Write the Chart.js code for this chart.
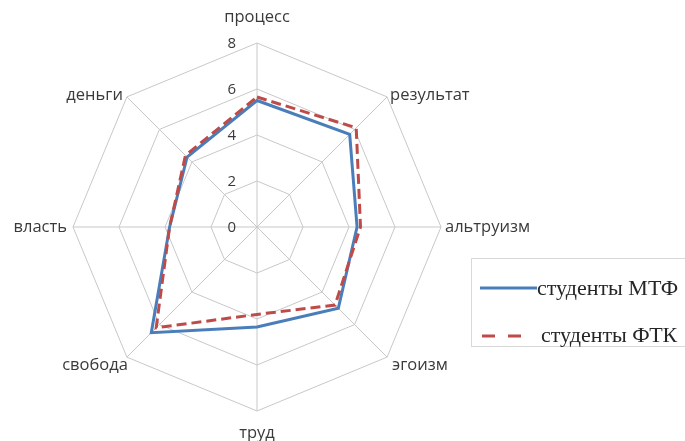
<!DOCTYPE html>
<html>
<head>
<meta charset="utf-8">
<script src="https://cdn.jsdelivr.net/npm/chart.js@4"></script>
<style>
  html, body { margin: 0; padding: 0; background: #fff; }
  #wrap { width: 685px; height: 441px; }
</style>
</head>
<body>
<div id="wrap"><canvas id="radarChart" width="685" height="441"></canvas></div>
<script>
const categories = ['процесс', 'результат', 'альтруизм', 'эгоизм', 'труд', 'свобода', 'власть', 'деньги'];
const mtfValues = [5.5, 5.7, 4.35, 5.0, 4.35, 6.5, 3.8, 4.3];
const ftkValues = [5.65, 6.1, 4.5, 4.8, 3.8, 6.2, 3.8, 4.4];
const tickValues = [0, 2, 4, 6, 8];
const seriesNames = ['студенты МТФ', 'студенты ФТК'];

const blue = '#4a7ebb';
const red = '#be4b48';

// labels around the web and the value ticks, placed the Excel way
const labelsPlugin = {
    id: 'excelLabels',
    afterDraw(chart) {
        const ctx = chart.ctx;
        const scale = chart.scales.r;
        ctx.save();
        ctx.fillStyle = '#3a3a3a';
        ctx.font = '16.5px "Open Sans"';
        ctx.textBaseline = 'middle';
        categories.forEach((name, i) => {
            const p = scale.getPointPositionForValue(i, 8);
            const dx = p.x - scale.xCenter;
            const dy = p.y - scale.yCenter;
            if (Math.abs(dx) < 2) {
                ctx.textAlign = 'center';
                ctx.fillText(name, p.x, dy < 0 ? p.y - 26 : p.y + 22);
            } else if (Math.abs(dy) < 2) {
                ctx.textAlign = dx > 0 ? 'left' : 'right';
                ctx.fillText(name, dx > 0 ? p.x + 4 : p.x - 6, p.y);
            } else if (dy < 0) {
                ctx.textAlign = dx > 0 ? 'left' : 'right';
                ctx.fillText(name, dx > 0 ? p.x + 3 : p.x - 4, p.y - 2);
            } else {
                ctx.textAlign = dx > 0 ? 'left' : 'right';
                ctx.fillText(name, dx > 0 ? p.x + 5 : p.x + 1, p.y + 8);
            }
        });
        ctx.font = '15px "Open Sans"';
        ctx.textAlign = 'right';
        tickValues.forEach(v => {
            const p = scale.getPointPositionForValue(0, v);
            ctx.fillText(String(v), p.x - 21, p.y + 1);
        });
        ctx.restore();

        // legend box
        ctx.save();
        ctx.strokeStyle = '#d9d9d9';
        ctx.lineWidth = 1;
        ctx.strokeRect(471.5, 258.5, 220, 88);
        ctx.lineWidth = 3;
        ctx.strokeStyle = blue;
        ctx.beginPath();
        ctx.moveTo(480, 288);
        ctx.lineTo(537, 288);
        ctx.stroke();
        ctx.strokeStyle = red;
        ctx.setLineDash([13, 13]);
        ctx.beginPath();
        ctx.moveTo(482, 336);
        ctx.lineTo(522, 336);
        ctx.stroke();
        ctx.setLineDash([]);
        ctx.fillStyle = '#262626';
        ctx.font = '22px "Liberation Serif"';
        ctx.textAlign = 'left';
        ctx.textBaseline = 'middle';
        ctx.fillText(seriesNames[0], 537, 289);
        ctx.fillText(seriesNames[1], 541, 336);
        ctx.restore();
    }
};

const ctx = document.getElementById('radarChart').getContext('2d');
const radarChart = new Chart(ctx, {
    type: 'radar',
    data: {
        labels: categories,
        datasets: [{
            label: seriesNames[0],
            data: mtfValues,
            borderColor: blue,
            backgroundColor: 'transparent',
            borderWidth: 3,
            pointRadius: 0,
            order: 1
        }, {
            label: seriesNames[1],
            data: ftkValues,
            borderColor: red,
            backgroundColor: 'transparent',
            borderWidth: 3,
            borderDash: [10, 5],
            pointRadius: 0,
            order: 0
        }]
    },
    options: {
        responsive: false,
        animation: false,
        layout: {
            padding: { left: 73, right: 244, top: 43, bottom: 30 }
        },
        plugins: {
            legend: { display: false },
            tooltip: { enabled: false }
        },
        scales: {
            r: {
                min: 0,
                max: 8,
                ticks: { display: false, stepSize: 2 },
                pointLabels: { display: false },
                grid: { color: '#c8c8c8', lineWidth: 1 },
                angleLines: { color: '#c8c8c8', lineWidth: 1 }
            }
        }
    },
    plugins: [labelsPlugin]
});
</script>
</body>
</html>
